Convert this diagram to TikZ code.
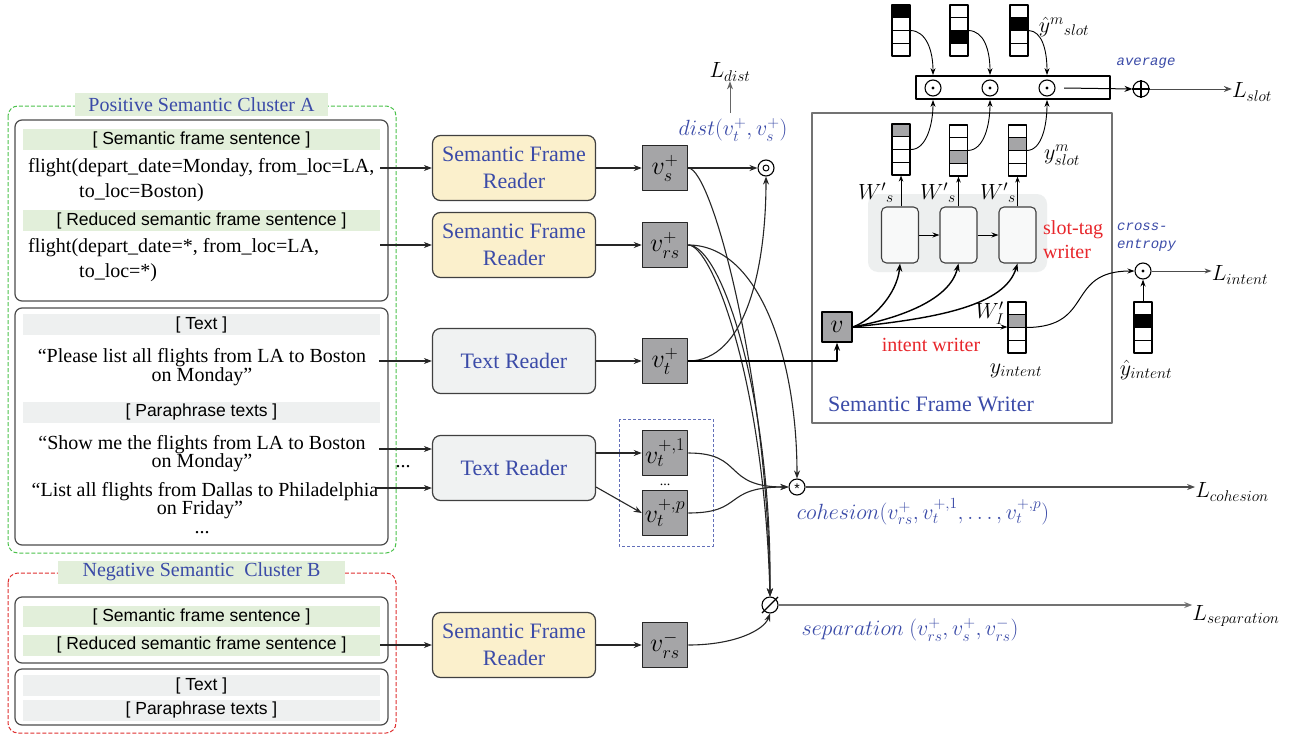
\RequirePackage{fix-cm}
\documentclass[tikz,border=0pt]{standalone}
\usepackage{fontspec}
\setmainfont{Liberation Serif}
\setsansfont{Liberation Sans}
\setmonofont{Liberation Mono}
\usetikzlibrary{arrows.meta,calc}
\DeclareMathSizes{22}{22}{15.5}{12}
\DeclareMathSizes{26}{26}{18}{14}
\definecolor{myblue}{HTML}{3B4BA8}
\definecolor{myred}{HTML}{E8262B}
\definecolor{bargreen}{HTML}{E2EFDA}
\definecolor{bargrey}{HTML}{EEF0F0}
\definecolor{readery}{HTML}{FBF0CC}
\definecolor{readerg}{HTML}{F0F2F2}
\definecolor{vecgrey}{HTML}{A5A5A7}
\definecolor{clgreen}{HTML}{4CC24C}
\definecolor{clred}{HTML}{E03030}
\definecolor{lstmbg}{HTML}{EDEFEF}
\newcommand\myvcol[5]{%
 \fill[#5] ({#2-9},{#3+12.75*(#4-1)}) rectangle ({#2+9},{#3+12.75*#4});
 \foreach \k in {1,2,3}{\draw[line width=0.9pt] ({#2-9},{#3+12.75*\k}) -- ({#2+9},{#3+12.75*\k});}
 \node[draw, line width=1.1pt, minimum width=18pt, minimum height=51pt, inner sep=0pt] (#1) at (#2,{#3+25.5}) {};
}
\tikzset{
 conn/.style={-{Stealth[length=8pt,width=6pt]}, line width=1.1pt, draw=black!85},
 inbox/.style={draw=black!70, line width=1.2pt, rounded corners=7pt},
 gbar/.style={fill=bargreen, minimum width=357pt, minimum height=21pt, inner sep=0pt, font=\sffamily\fontsize{17.5}{17.5}\selectfont},
 rbar/.style={fill=bargrey, minimum width=357pt, minimum height=21pt, inner sep=0pt, font=\sffamily\fontsize{17.5}{17.5}\selectfont},
 lefttxt/.style={inner sep=0pt, font=\fontsize{20}{22}\selectfont},
 clabel/.style={minimum height=23pt, inner sep=0pt, text=myblue, font=\fontsize{20}{22}\selectfont, fill=bargreen},
 reader/.style={draw=black!75, line width=1.2pt, rounded corners=8pt, minimum width=163pt, minimum height=65pt, align=center, text=myblue, font=\fontsize{22}{27}\selectfont},
 vecbox/.style={draw=black!85, line width=1.5pt, fill=vecgrey, minimum size=45pt, inner sep=0pt, font=\fontsize{26}{26}\selectfont},
 opc/.style={draw, circle, line width=1.1pt, minimum size=16pt, inner sep=0pt},
 mlabel/.style={inner sep=0pt, font=\fontsize{22}{22}\selectfont},
 blabel/.style={inner sep=0pt, text=myblue, font=\fontsize{22}{22}\selectfont},
 cell/.style={draw=black!75, line width=1.1pt, rounded corners=5pt, fill=white!60!lstmbg, minimum width=37pt, minimum height=56pt, inner sep=0pt},
 redtxt/.style={inner sep=0pt, text=myred, font=\fontsize{20}{24}\selectfont, align=left},
 monotxt/.style={inner sep=0pt, text=myblue, font=\ttfamily\itshape\fontsize{14}{18}\selectfont, align=left},
}
\begin{document}
\begin{tikzpicture}[x=1pt,y=-1pt, line join=round]
\useasboundingbox[fill=white] (0,0) rectangle (1308,736);

% ---------------- clusters ----------------
\draw[clgreen, line width=1pt, dash pattern=on 4pt off 2pt, rounded corners=10pt] (8,106) rectangle (396,553);
\node[clabel, minimum width=253pt] (clA) at (201.5,104.5) {Positive Semantic Cluster A};
\draw[clred, line width=1pt, dash pattern=on 4pt off 2pt, rounded corners=10pt] (8,573) rectangle (396,733);
\node[clabel, minimum width=287pt] (clB) at (201.5,572) {Negative Semantic \ Cluster B};

% inner boxes
\draw[inbox] (15,120) rectangle (388,301);
\draw[inbox] (15,308) rectangle (388,545);
\draw[inbox] (15,597) rectangle (388,663);
\draw[inbox] (15,669) rectangle (388,725);

% box 1
\node[gbar] (b1) at (201.5,139.5) {[ Semantic frame sentence ]};
\node[lefttxt, anchor=west] (f1a) at (28,168) {flight(depart\_date=Monday, from\_loc=LA,};
\node[lefttxt, anchor=west] (f1b) at (79,193) {to\_loc=Boston)};
\node[gbar] (b2) at (201.5,220.5) {[ Reduced semantic frame sentence ]};
\node[lefttxt, anchor=west] (f2a) at (28,248) {flight(depart\_date=*, from\_loc=LA,};
\node[lefttxt, anchor=west] (f2b) at (79,273) {to\_loc=*)};

% box 2
\node[rbar] (b3) at (201.5,324.5) {[ Text ]};
\node[lefttxt] (q1a) at (202,358) {“Please list all flights from LA to Boston};
\node[lefttxt] (q1b) at (202,377) {on Monday”};
\node[rbar] (b4) at (201.5,412) {[ Paraphrase texts ]};
\node[lefttxt] (q2a) at (202,445) {“Show me the flights from LA to Boston};
\node[lefttxt] (q2b) at (202,463) {on Monday”};
\node[lefttxt] (q3a) at (205,492) {“List all flights from Dallas to Philadelphia};
\node[lefttxt] (q3b) at (200,510) {on Friday”};
\node[lefttxt] (q3c) at (202,533) {...};

% box 3, 4
\node[gbar] (b5) at (201.5,616.5) {[ Semantic frame sentence ]};
\node[gbar] (b6) at (201.5,645) {[ Reduced semantic frame sentence ]};
\node[rbar] (b7) at (201.5,685.5) {[ Text ]};
\node[rbar] (b8) at (201.5,710) {[ Paraphrase texts ]};

% ---------------- readers ----------------
\node[reader, fill=readery] (sfr1) at (514,168) {Semantic Frame\\Reader};
\node[reader, fill=readery] (sfr2) at (514,245) {Semantic Frame\\Reader};
\node[reader, fill=readerg] (tr1) at (514,361) {Text Reader};
\node[reader, fill=readerg] (tr2) at (514,468) {Text Reader};
\node[reader, fill=readery] (sfr3) at (514,645) {Semantic Frame\\Reader};

\coordinate (s1) at (380,168);
\coordinate (s2) at (380,245);
\coordinate (s3) at (379,361);
\coordinate (s4) at (379,449);
\coordinate (s5) at (376,488);
\coordinate (s6) at (380,645);
\draw[conn] (s1) -- (s1 -| sfr1.west);
\draw[conn] (s2) -- (s2 -| sfr2.west);
\draw[conn] (s3) -- (s3 -| tr1.west);
\draw[conn] (s4) -- (s4 -| tr2.west);
\draw[conn] (s5) -- (s5 -| tr2.west);
\draw[conn] (s6) -- (s6 -| sfr3.west);
\node[lefttxt] (dots1) at (403,467) {...};

% ---------------- vectors ----------------
\draw[myblue!80, line width=1pt, dash pattern=on 3pt off 2pt] (619,419) rectangle (713,546);
\node[vecbox] (vs) at (665,168) {$v_s^+$};
\node[vecbox] (vrs) at (665,245) {$v_{rs}^+$};
\node[vecbox] (vt) at (665,361) {$v_t^+$};
\node[vecbox] (vt1) at (665,453) {$v_t^{+,1}$};
\node[vecbox] (vtp) at (665,513) {$v_t^{+,p}$};
\node[inner sep=0pt, font=\fontsize{14}{14}\selectfont] (dots2) at (665,485) {...};
\node[vecbox] (vrsn) at (665,645) {$v_{rs}^-$};

\draw[conn] (sfr1.east) -- (vs.west);
\draw[conn] (sfr2.east) -- (vrs.west);
\draw[conn] (tr1.east) -- (vt.west);
\coordinate (t2a) at (596,453);
\coordinate (t2b) at (596,487);
\draw[conn] (t2a) -- (vt1.west);
\draw[conn] (t2b) -- (vtp.west);
\draw[conn] (sfr3.east) -- (vrsn.west);

% ---------------- dist ----------------
\node[opc] (dd) at (766,168) {};
\draw[line width=1pt] (dd.center) circle (3);
\node[blabel] (distl) at (733,130) {$dist(v_t^+, v_s^+)$};
\node[mlabel] (Ldist) at (730,72) {$L_{dist}$};
\draw[-{Stealth[length=8pt,width=6pt]}, line width=1pt, black!60] (730,113) -- (Ldist.south);
\draw[conn] (vs.east) -- (dd.west);
\draw[conn] (vt.east) .. controls (745,361) and (766,270) .. (dd.south);

% ---------------- cohesion / separation ----------------
\node[opc] (coh) at (797,487) {};
\node[inner sep=0pt, font=\sffamily\fontsize{14}{14}\selectfont] (cohs) at (797,489) {*};
\node[opc] (sep) at (770,605) {};
\draw[line width=1.1pt] ($(sep.south west)+(-2,2)$) -- ($(sep.north east)+(2,-2)$);

\draw[conn] (vs.east) .. controls (712,168) and (768,380) .. (sep.north);
\draw[conn] (vrs.east) .. controls (712,245) and (764,380) .. (sep.north);
\draw[conn] (vrs.east) .. controls (722,245) and (772,400) .. (sep.north);
\draw[conn] (vrs.east) .. controls (760,245) and (797,360) .. (coh.north);
\draw[conn] (vt1.east) .. controls (745,453) and (722,487) .. (coh.west);
\draw[conn] (vtp.east) .. controls (745,513) and (722,487) .. (coh.west);
\draw[conn] (vrsn.east) .. controls (735,645) and (764,630) .. (sep.south);

\node[mlabel] (Lcoh) at (1232,492) {$L_{cohesion}$};
\node[mlabel] (Lsep) at (1236,616) {$L_{separation}$};
\draw[conn, black!70] (coh.east) -- (Lcoh.west |- coh.east);
\draw[conn, black!55] (sep.east) -- (Lsep.west |- sep.east);
\node[blabel] (cohl) at (923,512) {$cohesion(v_{rs}^+, v_t^{+,1}, \ldots, v_t^{+,p})$};
\node[blabel] (sepl) at (910,630) {$separation\ (v_{rs}^+, v_s^+, v_{rs}^-)$};

% ---------------- semantic frame writer ----------------
\draw[black!55, line width=1.2pt] (812,113) rectangle (1112,423);
\node[inner sep=0pt, text=myblue, font=\fontsize{22}{22}\selectfont] (sfwl) at (931,404) {Semantic Frame Writer};
\fill[lstmbg, rounded corners=10pt] (868,194) rectangle (1047,272);
\node[cell] (c1) at (900,235) {};
\node[cell] (c2) at (958.5,235) {};
\node[cell] (c3) at (1017.5,235) {};
\draw[-{Stealth[length=7pt,width=5pt]}, line width=1pt] (c1.east) -- (c2.west);
\draw[-{Stealth[length=7pt,width=5pt]}, line width=1pt] (c2.east) -- (c3.west);
\node[redtxt, anchor=west] (stw) at (1043,240) {slot-tag\\writer};

\node[draw=black, line width=1.5pt, fill=vecgrey, minimum size=30pt, inner sep=0pt, font=\fontsize{26}{26}\selectfont] (v) at (837,327) {$v$};
\draw[-{Stealth[length=8pt,width=6pt]}, line width=1.8pt] (vt.east) -| (v.south);

\draw[-{Stealth[length=8pt,width=6pt]}, line width=1.4pt] (v.east) .. controls (872,320) and (897,295) .. (c1.south);
\draw[-{Stealth[length=8pt,width=6pt]}, line width=1.4pt] (v.east) .. controls (900,318) and (950,300) .. (c2.south);
\draw[-{Stealth[length=8pt,width=6pt]}, line width=1.4pt] (v.east) .. controls (940,318) and (1005,305) .. (c3.south);

% y_slot columns
\myvcol{yc1}{901}{124}{1}{vecgrey}
\myvcol{yc2}{958.5}{125}{3}{vecgrey}
\myvcol{yc3}{1017.5}{125}{2}{vecgrey}
\draw[-{Stealth[length=6pt,width=4.5pt]}, line width=0.9pt] (c1.north -| yc1.south) -- (yc1.south);
\draw[-{Stealth[length=6pt,width=4.5pt]}, line width=0.9pt] (c2.north -| yc2.south) -- (yc2.south);
\draw[-{Stealth[length=6pt,width=4.5pt]}, line width=0.9pt] (c3.north -| yc3.south) -- (yc3.south);
\node[mlabel] (ws1) at (876,193) {$W'{}_{s}$};
\node[mlabel] (ws2) at (938,193) {$W'{}_{s}$};
\node[mlabel] (ws3) at (998,193) {$W'{}_{s}$};
\node[mlabel] (ysl) at (1062,155) {$y^m_{slot}$};

% y_intent
\myvcol{yi}{1017}{302}{2}{vecgrey}
\draw[-{Stealth[length=7pt,width=5pt]}, line width=1pt] (v.east) -- (v.east -| yi.west);
\node[mlabel] (wi) at (990,313) {$W'_I$};
\node[redtxt] (iw) at (931,345) {intent writer};
\node[mlabel] (yil) at (1016,371) {$y_{intent}$};

% intent loss
\node[opc] (ci) at (1143,271) {};
\fill (ci.center) circle (1.6);
\myvcol{yhi}{1143}{302}{2}{black}
\draw[-{Stealth[length=7pt,width=5pt]}, line width=1pt] (yhi.north) -- (ci.south);
\draw[-{Stealth[length=7pt,width=5pt]}, line width=1pt] (yi.east) .. controls (1095,327) and (1065,271) .. (ci.west);
\node[mlabel] (Lint) at (1240,275) {$L_{intent}$};
\draw[-{Stealth[length=7pt,width=5pt]}, line width=1pt, black!70] (ci.east) -- (Lint.west |- ci.east);
\node[mlabel] (yhil) at (1146,370) {$\hat{y}_{intent}$};
\node[monotxt, anchor=west] (ce) at (1117,237) {cross-\\entropy};

% average box
\node[draw=black, line width=1.8pt, minimum width=194pt, minimum height=23pt, inner sep=0pt] (avg) at (1013,87.5) {};
\node[opc] (o1) at (933,88) {};
\node[opc] (o2) at (990,88) {};
\node[opc] (o3) at (1047,88) {};
\fill (o1.center) circle (1.6);
\fill (o2.center) circle (1.6);
\fill (o3.center) circle (1.6);
\node[monotxt] (avgl) at (1146,63) {average};
\node[opc] (plus) at (1141,89) {};
\draw[line width=1.1pt] (plus.north) -- (plus.south) (plus.west) -- (plus.east);
\coordinate (avo) at (1064,88);
\draw[-{Stealth[length=8pt,width=6pt]}, line width=1pt] (avo) -- (plus.west);
\node[mlabel] (Lslot) at (1252,92) {$L_{slot}$};
\draw[-{Stealth[length=8pt,width=6pt]}, line width=1pt, black!70] (plus.east) -- (Lslot.west |- plus.east);

% y-hat slot columns
\myvcol{yh1}{901}{5}{1}{black}
\myvcol{yh2}{959}{5}{3}{black}
\myvcol{yh3}{1019}{5}{2}{black}
\node[mlabel] (yhsl) at (1064,27) {$\hat{y}^{m}{}_{slot}$};

\draw[-{Stealth[length=7pt,width=5pt]}, line width=0.9pt] (yh1.east) .. controls (926,31) and (933,50) .. (o1 |- avg.north);
\draw[-{Stealth[length=7pt,width=5pt]}, line width=0.9pt] (yh2.east) .. controls (984,31) and (990,50) .. (o2 |- avg.north);
\draw[-{Stealth[length=7pt,width=5pt]}, line width=0.9pt] (yh3.east) .. controls (1042,31) and (1047,50) .. (o3 |- avg.north);
\draw[-{Stealth[length=7pt,width=5pt]}, line width=0.9pt] (yc1.east) .. controls (926,150) and (933,125) .. (o1 |- avg.south);
\draw[-{Stealth[length=7pt,width=5pt]}, line width=0.9pt] (yc2.east) .. controls (984,150) and (990,125) .. (o2 |- avg.south);
\draw[-{Stealth[length=7pt,width=5pt]}, line width=0.9pt] (yc3.east) .. controls (1042,150) and (1047,125) .. (o3 |- avg.south);
\end{tikzpicture}
\end{document}
